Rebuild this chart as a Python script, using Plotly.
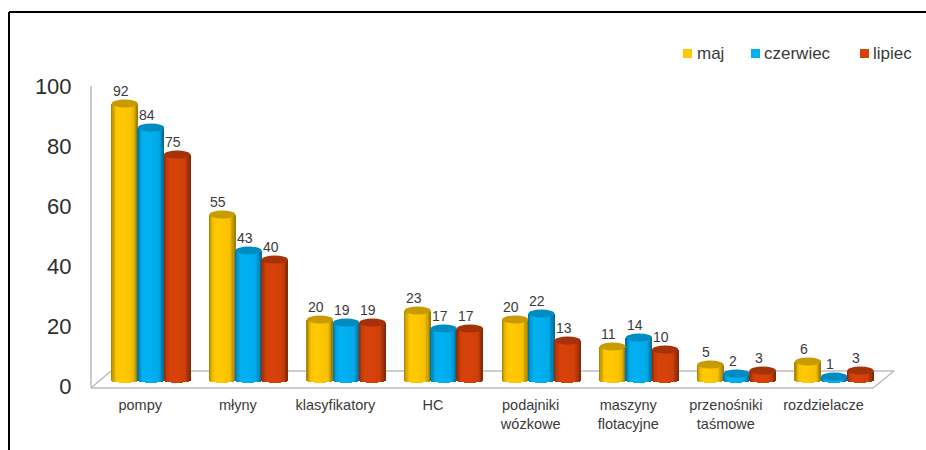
import plotly.graph_objects as go

categories = ["pompy", "młyny", "klasyfikatory", "HC", "podajniki<br>wózkowe",
              "maszyny<br>flotacyjne", "przenośniki<br>taśmowe", "rozdzielacze"]
maj = [92, 55, 20, 23, 20, 11, 5, 6]
czerwiec = [84, 43, 19, 17, 22, 14, 2, 1]
lipiec = [75, 40, 19, 17, 13, 10, 3, 3]
y_ticks = [0, 20, 40, 60, 80, 100]

W, H = 926, 450
FLOOR_Y = 388
PLOT_LEFT = 91
CAT0_X, CAT_STEP = 151.0, 97.6     # pixel centre of first cluster, cluster spacing
BAR_W = 26.2
PX_PER_UNIT = 3.0
BASE_Y, TICK_ZERO_Y = 379.5, 386.0  # 3D floor offset between bars and axis numbers
CAP_RY = 4.0
FOOT_RY = 3.4
STRIPS = 21
FONT = "Liberation Sans, Arial, sans-serif"
TEXT = "#3a3a3a"
WALL = "#bdbdbd"

series = [
    ("maj", maj, (255, 200, 0), (200, 155, 0), -1),
    ("czerwiec", czerwiec, (0, 176, 240), (0, 140, 195), 0),
    ("lipiec", lipiec, (214, 66, 10), (165, 50, 8), 1),
]


def px(x):
    return x / W


def py(y):
    return 1 - y / H


def shade(rgb, t):
    # Cylinder lighting: flat middle, darker towards both edges
    a = abs(t)
    f = 1.0 if a < 0.5 else 1.0 - 0.38 * ((a - 0.5) / 0.5) ** 1.8
    if t > 0:
        f -= 0.04 * t
    return "rgb({},{},{})".format(*(int(c * f) for c in rgb))


x_unit = BAR_W / CAT_STEP
strip_w = x_unit / STRIPS
ry = CAP_RY / PX_PER_UNIT
foot_ry = FOOT_RY / PX_PER_UNIT
fig = go.Figure()
shapes = []
annotations = []

# Floor and side wall of the 3D plot box
for x0, y0, x1, y1 in [(91, 86, 91, 388), (91, 388, 873, 388), (91, 388, 111, 371),
                       (111, 371, 894, 371), (894, 371, 873, 388)]:
    shapes.append(dict(type="line", xref="paper", yref="paper", layer="below",
                       x0=px(x0), y0=py(y0), x1=px(x1), y1=py(y1),
                       line=dict(color=WALL, width=1.6)))

# Frame lines along the top and left of the page
shapes.append(dict(type="line", xref="paper", yref="paper", x0=px(9), y0=py(12), x1=1, y1=py(12),
                   line=dict(color="#000", width=2)))
shapes.append(dict(type="line", xref="paper", yref="paper", x0=px(9), y0=py(12), x1=px(9), y1=0,
                   line=dict(color="#000", width=2)))

# Carries the visible value axis, which sits slightly in front of the bars
fig.add_trace(go.Scatter(x=[0], y=[0], yaxis="y", mode="markers", marker=dict(opacity=0),
                         hoverinfo="skip", showlegend=False))

for name, values, body, cap, pos in series:
    xs, ys, foot_y, foot_base, colors = [], [], [], [], []
    for i, v in enumerate(values):
        centre = i + pos * x_unit
        for s in range(STRIPS):
            t = (s + 0.5) / STRIPS * 2 - 1
            xs.append(centre + t * x_unit / 2)
            ys.append(v)
            depth = foot_ry * (1 - t * t) ** 0.5
            foot_y.append(depth)
            foot_base.append(-depth)
            colors.append(shade(body, t))
        shapes.append(dict(type="circle", xref="x", yref="y2", layer="above",
                           x0=centre - x_unit / 2, x1=centre + x_unit / 2,
                           y0=v - ry, y1=v + ry,
                           fillcolor="rgb({},{},{})".format(*cap), line=dict(width=0)))
        annotations.append(dict(x=centre, y=v, xref="x", yref="y2", text=str(v), showarrow=False,
                                xshift=-4, yshift=12.5, font=dict(size=14, color=TEXT, family=FONT)))
    fig.add_trace(go.Bar(x=xs, y=foot_y, base=foot_base, yaxis="y2", width=strip_w * 1.08,
                         marker=dict(color=colors, line=dict(width=0)),
                         hoverinfo="skip", showlegend=False))
    fig.add_trace(go.Bar(x=xs, y=ys, yaxis="y2", width=strip_w * 1.08, name=name,
                         marker=dict(color=colors, line=dict(width=0)), showlegend=False))

# Legend row
for (name, _, body, _, _), sq_x, tx_x in zip(series, (683, 751, 860), (695, 762, 871)):
    shapes.append(dict(type="rect", xref="paper", yref="paper",
                       x0=px(sq_x), x1=px(sq_x + 9), y0=py(58), y1=py(49),
                       fillcolor="rgb({},{},{})".format(*body), line=dict(width=0)))
    annotations.append(dict(x=px(tx_x), y=py(53.5), xref="paper", yref="paper", text=name,
                            showarrow=False, xanchor="left", yanchor="middle",
                            font=dict(size=17, color=TEXT, family=FONT)))

fig.update_layout(
    width=W, height=H, autosize=False, barmode="overlay", bargap=0,
    margin=dict(l=0, r=0, t=0, b=0, pad=0, autoexpand=False),
    paper_bgcolor="white", plot_bgcolor="rgba(0,0,0,0)",
    showlegend=False, shapes=shapes, annotations=annotations,
    xaxis=dict(domain=[px(PLOT_LEFT), 1], automargin=False,
               range=[(PLOT_LEFT - CAT0_X) / CAT_STEP, (W - CAT0_X) / CAT_STEP],
               tickmode="array", tickvals=[i - 0.11 for i in range(len(categories))],
               ticktext=categories, ticks="outside", ticklen=4, tickcolor="rgba(0,0,0,0)",
               showgrid=False, zeroline=False, showline=False,
               tickfont=dict(size=14.5, color=TEXT, family=FONT), anchor="y"),
    yaxis=dict(domain=[py(FLOOR_Y), 1], automargin=False,
               range=[(TICK_ZERO_Y - FLOOR_Y) / PX_PER_UNIT, TICK_ZERO_Y / PX_PER_UNIT],
               tickmode="array", tickvals=y_ticks, ticks="outside", ticklen=14,
               tickcolor="rgba(0,0,0,0)", showgrid=False, zeroline=False, showline=False,
               tickfont=dict(size=22, color="#2e2e2e", family=FONT)),
    yaxis2=dict(domain=[py(FLOOR_Y), 1], overlaying="y", visible=False,
                range=[(BASE_Y - FLOOR_Y) / PX_PER_UNIT, BASE_Y / PX_PER_UNIT]),
)

fig.write_html("out.html", config=dict(displayModeBar=False))
